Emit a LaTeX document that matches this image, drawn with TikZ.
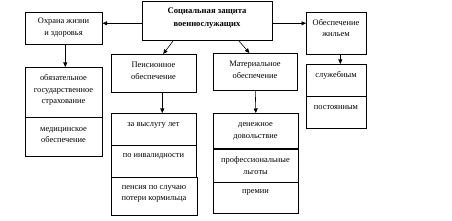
\documentclass[tikz,border=0pt]{standalone}
\usepackage{fontspec}
\setmainfont{Liberation Serif}
\usetikzlibrary{arrows.meta,calc}
\tikzset{
  box/.style={draw=black, line width=0.6pt, anchor=north west, inner sep=0pt},
  txt/.style={align=center, inner sep=0pt, font=\fontsize{8.4}{11.8}\selectfont},
  btxt/.style={txt, font=\fontsize{8.6}{12.2}\selectfont\bfseries},
  arr/.style={line width=0.6pt, -{Triangle[length=4.5pt,width=4pt]}}
}
\begin{document}
\begin{tikzpicture}[x=1pt,y=-1pt]
\useasboundingbox (0,0) rectangle (452,221);
% boxes
\node[box, minimum width=130, minimum height=39] (top) at (142,1) {};
\node[box, minimum width=77, minimum height=32] (ohr) at (25,12) {};
\node[box, minimum width=77, minimum height=50] (ob1) at (25,67) {};
\node[box, minimum width=77, minimum height=39] (ob2) at (25,117) {};
\node[box, minimum width=85, minimum height=38] (pens) at (111,54) {};
\node[box, minimum width=85, minimum height=32] (p1) at (111,113) {};
\node[box, minimum width=85, minimum height=32] (p2) at (111,145) {};
\node[box, minimum width=86, minimum height=38] (p3) at (111,177) {};
\node[box, minimum width=84, minimum height=37] (mat) at (213,53) {};
\node[box, minimum width=85, minimum height=36] (m1) at (213,113) {};
\node[box, minimum width=85, minimum height=33] (m2) at (213,149) {};
\node[box, minimum width=85, minimum height=31] (m3) at (213,182) {};
\node[box, minimum width=60, minimum height=42] (zh) at (306,12) {};
\node[box, minimum width=60, minimum height=32] (z1) at (306,64) {};
\node[box, minimum width=60, minimum height=32] (z2) at (306,96) {};
\draw[line width=1.3pt] (m2.north west) -- (m2.north east);
% texts
\node[btxt] (topt) at (207,18) {Социальная защита\\военнослужащих};
\node[txt] (ohrt) at (63.5,28) {Охрана жизни\\и здоровья};
\node[txt] (ob1t) at (63.5,90) {обязательное\\государственное\\страхование};
\node[txt] (ob2t) at (63.5,135) {медицинское\\обеспечение};
\node[txt] (penst) at (153.5,71) {Пенсионное\\обеспечение};
\node[txt] (p1t) at (153.5,125) {за выслугу лет};
\node[txt] (p2t) at (153.5,156) {по инвалидности};
\node[txt] (p3t) at (154,194) {пенсия по случаю\\потери кормильца};
\node[txt] (matt) at (255,70) {Материальное\\обеспечение};
\node[txt] (m1t) at (255.5,131) {денежное\\довольствие};
\node[txt] (m2t) at (255.5,165.5) {профессиональные\\льготы};
\node[txt] (m3t) at (255.5,192) {премии};
\node[txt] (zht) at (336,28) {Обеспечение\\жильем};
\node[txt] (z1t) at (336,75) {служебным};
\node[txt] (z2t) at (336,108) {постоянным};
% arrows
\coordinate (aL) at ($(top.west)+(0,2.5)$);
\draw[arr] (aL) -- (aL -| ohr.east);
\coordinate (aR) at ($(top.east)+(0,2.5)$);
\draw[arr] (aR) -- (aR -| zh.west);
\draw[arr] ($(top.south west)!0.24!(top.south east)$) -- ($(pens.north west)!0.61!(pens.north east)$);
\draw[arr] ($(top.south west)!0.74!(top.south east)$) -- ($(mat.north west)!0.43!(mat.north east)$);
\draw[arr] ($(ohr.south)+(1.5,0)$) -- ($(ob1.north)+(1.5,0)$);
\draw[arr] ($(pens.south)+(8.5,0)$) -- ($(p1.north)+(8.5,0)$);
\draw[arr] (mat.south) -- (m1.north);
\draw[arr] ($(zh.south)+(4,0)$) -- ($(z1.north)+(4,0)$);
\end{tikzpicture}
\end{document}
